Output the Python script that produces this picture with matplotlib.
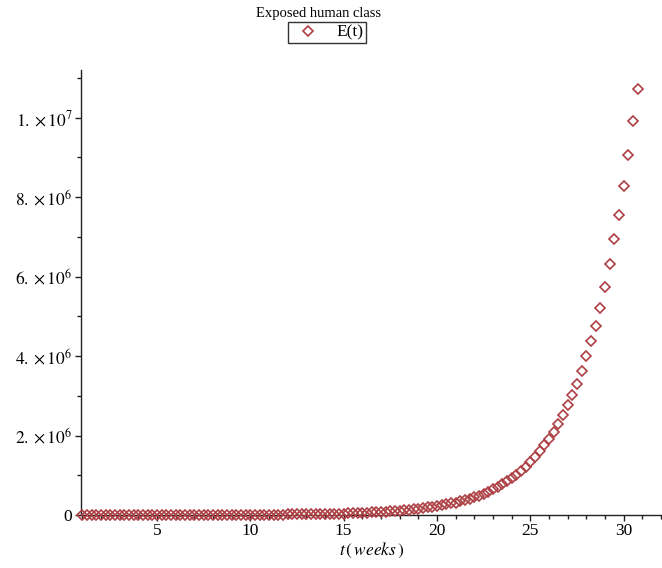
import matplotlib
matplotlib.use("Agg")
import matplotlib.pyplot as plt
from matplotlib.ticker import FixedLocator, MultipleLocator

# ---- data ----
t_start = 1.0
t_step = 0.25
E_values = [
    # t = 1.0 .. 10.75 (visually on the axis)
    230, 260, 280, 310, 340, 370, 400, 440, 480, 530,
    580, 630, 690, 760, 830, 910, 1000, 1090, 1190, 1310,
    1430, 1570, 1710, 1880, 2060, 2250, 2470, 2700, 2960, 3240,
    3540, 3880, 4250, 4650, 5090, 5580, 6100, 6680, 7320, 8010,
    # t = 11.0 .. 20.75
    8800, 9600, 10500, 11500, 12600, 13800, 15100, 16500, 18100, 19800,
    21700, 23800, 26000, 28500, 31200, 34100, 37400, 40900, 44800, 49100,
    53700, 58800, 64400, 70500, 77200, 84500, 92600, 101000, 111000, 121000,
    133000, 145000, 159000, 174000, 191000, 209000, 229000, 250000, 274000, 300000,
    # t = 21.0 .. 30.75
    311000, 341000, 373000, 409000, 448000, 490000, 537000, 588000, 644000, 705000,
    772000, 845000, 925000, 1010000, 1110000, 1220000, 1330000, 1460000, 1600000, 1750000,
    1920000, 2100000, 2300000, 2520000, 2760000, 3020000, 3300000, 3620000, 3990000, 4380000,
    4760000, 5220000, 5750000, 6310000, 6950000, 7560000, 8290000, 9070000, 9910000, 10720000,
]
t_values = [t_start + i * t_step for i in range(len(E_values))]

title_text = "Exposed human class"
legend_label = "E(t)"
ytick_vals = [0, 2e6, 4e6, 6e6, 8e6, 1e7]
ytick_labels = ["0", r"$2.\times 10^{6}$", r"$4.\times 10^{6}$", r"$6.\times 10^{6}$",
                r"$8.\times 10^{6}$", r"$1.\times 10^{7}$"]
xtick_vals = [5, 10, 15, 20, 25, 30]

plt.rcParams['font.family'] = ['Liberation Serif', 'DejaVu Serif']
plt.rcParams['mathtext.fontset'] = 'stix'

W, H = 662, 568
fig = plt.figure(figsize=(W / 100, H / 100), dpi=100)
ax = fig.add_axes([80.7 / W, 53 / H, (W - 80.7) / W, (515 - 70) / H])

color = '#ad4044'
ax.plot(t_values, E_values, linestyle='none', marker='D', markersize=4.6,
        markerfacecolor='none', markeredgecolor=color, markeredgewidth=1.2,
        clip_on=False, label=legend_label, zorder=3)

ax.set_xlim(0.92, 32.05)
ax.set_ylim(0, 11.2e6)

for s in ['top', 'right']:
    ax.spines[s].set_visible(False)
for s in ['left', 'bottom']:
    ax.spines[s].set_linewidth(1.0)
    ax.spines[s].set_color('#222222')

ax.xaxis.set_major_locator(FixedLocator(xtick_vals))
ax.xaxis.set_minor_locator(MultipleLocator(1))
ax.set_xticklabels([str(v) for v in xtick_vals])
ax.yaxis.set_major_locator(FixedLocator(ytick_vals))
ax.yaxis.set_minor_locator(FixedLocator([1e6, 3e6, 5e6, 7e6, 9e6, 1.1e7]))
ax.set_yticklabels(ytick_labels)

ax.tick_params(axis='both', which='major', direction='out', length=4, width=1,
               color='#222222', labelsize=12.5, pad=2)
ax.tick_params(axis='both', which='minor', direction='out', length=3, width=1,
               color='#222222')

ax.set_xlabel(r"$t\,(\,weeks\,)$", fontsize=12.5, labelpad=1)

fig.text(318 / W, 1 - 13 / H, title_text, ha='center', va='center', fontsize=10.5)

leg = fig.legend(loc='upper center', bbox_to_anchor=(327 / W, 1 - 22 / H),
                 frameon=True, fancybox=False, edgecolor='black', fontsize=12.5,
                 handlelength=2.0, handletextpad=0.6, borderpad=0.15,
                 borderaxespad=0, markerscale=1.0)
leg.get_frame().set_linewidth(1.0)

fig.savefig('out.png', dpi=100)
